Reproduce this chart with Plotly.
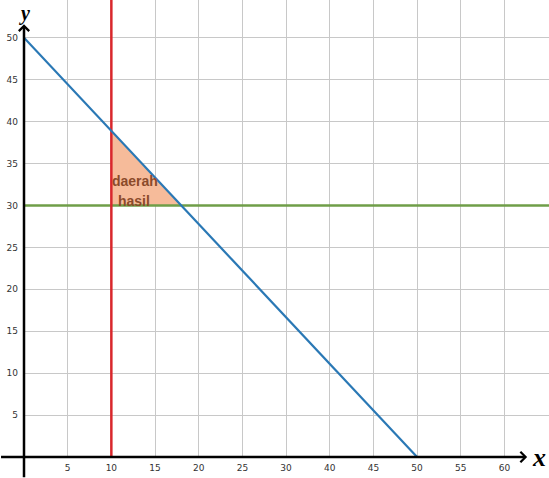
import plotly.graph_objects as go

# ── Data ───────────────────────────────────────────────────────────────
x_ticks = [5, 10, 15, 20, 25, 30, 35, 40, 45, 50, 55]
x_labels = ["5", "10", "15", "20", "25", "30", "40", "45", "50", "55", "60"]
y_ticks = [5, 10, 15, 20, 25, 30, 35, 40, 45, 50]
y_labels = ["5", "10", "15", "20", "25", "30", "35", "40", "45", "50"]

blue_x = [0, 45]
blue_y = [50, 0]
red_x = [10, 10]
red_y = [0, 54.5]
green_x = [0, 60.1]
green_y = [30, 30]

region_x = [10, 10, 18, 10]
region_y = [30, 38.9, 30, 30]

X_RANGE = [0, 60.1]
Y_RANGE = [0, 54.5]

fig = go.Figure()

# ── Feasible region ───────────────────────────────────────────────────
fig.add_trace(go.Scatter(
    x=region_x, y=region_y, mode="lines", fill="toself",
    fillcolor="#F6BB9A", line=dict(width=0), hoverinfo="skip",
))

# ── Constraint lines ──────────────────────────────────────────────────
fig.add_trace(go.Scatter(
    x=green_x, y=green_y, mode="lines",
    line=dict(color="#6F9E48", width=2.5), hoverinfo="skip",
))
fig.add_trace(go.Scatter(
    x=red_x, y=red_y, mode="lines",
    line=dict(color="#D9272C", width=2.5), hoverinfo="skip",
))
fig.add_trace(go.Scatter(
    x=blue_x, y=blue_y, mode="lines",
    line=dict(color="#2A78B5", width=2.2), hoverinfo="skip",
))

# ── Axes with arrows ──────────────────────────────────────────────────
arrow = dict(
    text="", showarrow=True, arrowhead=4, arrowsize=0.8,
    arrowwidth=2.5, arrowcolor="#000000", standoff=0,
    xref="x", yref="y", axref="x", ayref="y",
)
fig.add_annotation(x=57.6, y=0, ax=-2.8, ay=0, **arrow)
fig.add_annotation(x=0, y=51.6, ax=0, ay=-2.6, **arrow)

fig.add_annotation(
    x=58.9, y=0, xref="x", yref="y", text="<b><i>x</i></b>",
    showarrow=False, xanchor="center", yanchor="middle",
    font=dict(family="Liberation Serif", size=26, color="#000000"),
)
fig.add_annotation(
    x=0.05, y=54.5, xref="x", yref="y", text="<b><i>y</i></b>",
    showarrow=False, xanchor="center", yanchor="top",
    font=dict(family="Liberation Serif", size=20, color="#000000"),
)

# ── Region label ──────────────────────────────────────────────────────
label_font = dict(family="Liberation Sans", size=14, color="#8B4A2A")
fig.add_annotation(
    x=12.65, y=32.95, xref="x", yref="y", text="<b>daerah</b>",
    showarrow=False, font=label_font,
)
fig.add_annotation(
    x=12.6, y=30.5, xref="x", yref="y", text="<b>hasil</b>",
    showarrow=False, font=label_font,
)

tick_font = dict(family="DejaVu Sans", size=9, color="#333333")
fig.update_layout(
    width=549,
    height=478,
    margin=dict(l=24, r=0, t=0, b=21),
    paper_bgcolor="#FFFFFF",
    plot_bgcolor="#FFFFFF",
    showlegend=False,
    xaxis=dict(
        range=X_RANGE, tickvals=x_ticks, ticktext=x_labels,
        showgrid=True, gridcolor="#C8C8C8", gridwidth=1,
        zeroline=False, showline=False, ticks="",
        tickfont=tick_font, ticklabelstandoff=4,
    ),
    yaxis=dict(
        range=Y_RANGE, tickvals=y_ticks, ticktext=y_labels,
        showgrid=True, gridcolor="#C8C8C8", gridwidth=1,
        zeroline=False, showline=False, ticks="",
        tickfont=tick_font, ticklabelstandoff=5,
    ),
)

fig.write_html(
    "out.html",
    config={"displayModeBar": False},
    post_script="document.body.style.margin='0';document.body.style.overflow='hidden';",
)
